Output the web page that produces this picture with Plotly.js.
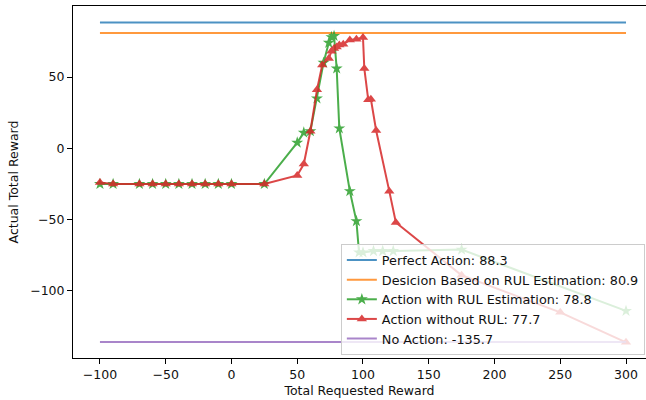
<!DOCTYPE html>
<html>
<head>
<meta charset="utf-8">
<script src="https://cdn.plot.ly/plotly-3.0.1.min.js"></script>
<style>html,body{margin:0;padding:0;background:#fff;}#chart{width:646px;height:400px;}</style>
</head>
<body>
<div id="chart"></div>
<script>
// Reference levels
const refX = [-100, 300];
const perfectAction = 88.3;
const rulDecision = 80.9;
const noAction = -135.7;

// Action with RUL Estimation (green, stars)
const xWithRUL = [-100,-90,-70,-60,-50,-40,-30,-20,-10,0,25,50,55,60,65,70,74,76,78,80,82,90,95,97,100,108,115,123,175,300];
const yWithRUL = [-25,-25,-25,-25,-25,-25,-25,-25,-25,-25,-25,4,11,12,35,60,74,78,78.8,56,14,-30,-51,-73,-73,-72,-72,-72,-71,-114];

// Action without RUL (red, triangles)
const xWithoutRUL = [-100,-90,-70,-60,-50,-40,-30,-20,-10,0,25,50,55,60,65,69,74,76,78,80,82,85,90,95,100,101,104,106,110,120,125,175,250,300];
const yWithoutRUL = [-24,-25,-25,-25,-25,-25,-25,-25,-25,-25,-25,-19,-11,12,41,58.5,63,68,70,71,72.5,73,76,76.5,77.7,56,34,34.5,12.5,-30,-52,-89,-115,-136];

const labels = ["Perfect Action: 88.3", "Desicion Based on RUL Estimation: 80.9",
  "Action with RUL Estimation: 78.8", "Action without RUL: 77.7", "No Action: -135.7"];

const lw = 2;
const traces = [
  {x: refX, y: [perfectAction, perfectAction], mode: 'lines', name: labels[0],
   line: {color: '#1f77b4', width: lw}, opacity: 0.8},
  {x: refX, y: [rulDecision, rulDecision], mode: 'lines', name: labels[1],
   line: {color: '#ff7f0e', width: lw}, opacity: 0.8},
  {x: xWithRUL, y: yWithRUL, mode: 'lines+markers', name: labels[2],
   line: {color: '#2ca02c', width: lw}, marker: {symbol: 'star', size: 9, color: '#2ca02c'}, opacity: 0.85},
  {x: xWithoutRUL, y: yWithoutRUL, mode: 'lines+markers', name: labels[3],
   line: {color: '#d62728', width: lw}, marker: {symbol: 'triangle-up', size: 9, color: '#d62728'}, opacity: 0.85},
  {x: refX, y: [noAction, noAction], mode: 'lines', name: labels[4],
   line: {color: '#9467bd', width: lw}, opacity: 0.8}
];

const font = {family: 'DejaVu Sans', size: 12.5, color: '#111'};
const legendFont = {family: 'DejaVu Sans', size: 12.8, color: '#111'};
const layout = {
  width: 646, height: 400,
  margin: {l: 73, r: 0, t: 6, b: 42},
  paper_bgcolor: '#fff', plot_bgcolor: '#fff',
  font: font,
  xaxis: {
    range: [-120.5, 315.2], tickvals: [-100,-50,0,50,100,150,200,250,300],
    showgrid: false, zeroline: false, showline: true, mirror: true, linecolor: '#000', linewidth: 1,
    ticks: 'outside', ticklen: 5, tickcolor: '#000',
    title: {text: 'Total Requested Reward', font: font, standoff: 5}
  },
  yaxis: {
    range: [-147.0, 99.8], tickvals: [-100,-50,0,50],
    showgrid: false, zeroline: false, showline: true, mirror: false, linecolor: '#000', linewidth: 1,
    ticks: 'outside', ticklen: 5, tickcolor: '#000',
    title: {text: 'Actual Total Reward', font: font, standoff: 8}
  },
  showlegend: true,
  legend: {
    x: 0.998, y: 0.008, xanchor: 'right', yanchor: 'bottom',
    bgcolor: 'rgba(255,255,255,0.8)', bordercolor: '#ccc', borderwidth: 1,
    font: legendFont, tracegroupgap: 0
  }
};

Plotly.newPlot('chart', traces, layout, {staticPlot: true, displayModeBar: false});
</script>
</body>
</html>
